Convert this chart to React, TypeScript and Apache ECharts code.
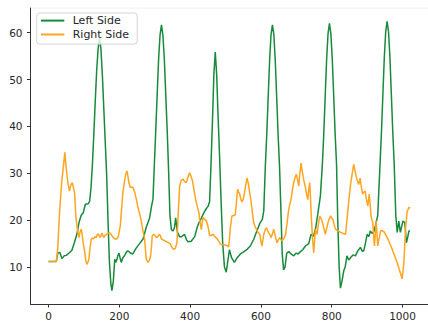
import React, { useEffect, useRef } from "react";
import * as echarts from "echarts";

const xTicks = [0, 200, 400, 600, 800, 1000];
const yTicks = [10, 20, 30, 40, 50, 60];

const leftX = [0,22,26,32,38,44,50,58,66,72,80,86,92,98,104,112,116,120,124,128,132,136,140,144,148,152,156,160,164,168,172,176,179,183,187,190,193,196,199,202,205.5,210,215,220,224,231,238,247,257,267,276,285.5,291,295,299,303,307,311,315,319,323,327,331,335,339,343,347,352,356,359,364,370,376,384,390,394,403,413,420,425,432,438,446,451,455,459,463,467,471,475,479,483,487,492,497,502,506,511,517,525,533,542,550,561,570,580,590,598,604,608,612.5,616.5,620.5,624.5,628.5,632.5,636.5,640.5,644.5,648.5,652.5,656.5,660,664,668,673,678.5,685,692.7,700,705,711.6,718,725.7,735,741.6,749,755,761,768,773.6,777.6,781.6,785.6,789.6,793.6,797.6,801.6,805.6,809.6,813.6,817,821,824.6,829,834,838,843,848,853,860,867,874,881,886,890.6,895,900,905,909,914,919,925.5,930,936.5,940.5,944.5,948.5,952.5,956.5,960.5,964.5,968.5,972.5,976.5,981,985,989.5,994,1001,1006.5,1011,1015,1018,1021];
const leftY = [11.2,11.2,13,13.1,11.8,12.4,12.5,13,13.6,15,17,19.5,21,21.6,23.4,23.5,24,27,32,38.5,45.5,52,56.5,59,56.5,51,44,37,30,20,11,6.5,5,7,11.7,11,11.6,12.5,13,12,11,12,12.5,13.2,13.5,13,12.8,14,15,16,18.5,20.5,23,24.5,32,39.5,47,54.5,59.5,61.7,59.5,54.5,47,39.5,31,21,18,17.7,18.5,20.5,17.5,16.5,16.5,17,15.8,15.4,15.5,16.5,18.5,19.5,20.5,21.5,22.5,23,24,32,41,51,55.9,51,42,34,25,15,10,8.9,11,13.7,12,11,12,12.8,13.2,13.8,14.5,16,18,19.5,20.2,22,31.6,38.3,46.3,54,59.6,61.7,59.6,54,46.3,38.3,31.6,22,13,9.4,10,13,13.3,12.8,12.4,13,12.8,13.3,13.7,14.5,15,17,16.6,18.5,21.5,25.2,32,38.5,46.5,54.3,59.8,62,59.8,54.3,46.5,38.5,32,20,10,5.5,7,9.2,10,12.4,11.5,12,12.6,12.4,13.5,14.2,13.4,13.5,15,17,16.5,17.7,17.2,17.5,19.5,21,32,38.8,46.7,54.6,60.2,62.4,60.2,54.6,46.7,38.8,32,21,17.4,19.8,17.4,19.8,19.5,15.2,16.5,17.7,17.7];

const rightX = [0,22,26,31,37,42,46,50,54.6,59,63,67,70,73.5,77,80,85.8,89,92.4,95,98,101.8,105,108,111,114,117,120.6,124,127,131,135,138,141,146,150.8,155.6,160,164,169,173.6,178,183,188,192.6,197,202.6,206,210,214,217.7,221.5,224,227,231,235,238.7,243,248,252.6,257,262,266,271.4,274,276,281,285,288,291,293,297,301,305,309,312.6,316,319,326,334,343.6,348,351,355,358,362.8,366,370.4,375,379.8,384,389,394,398.6,402,406,411,415.6,420,425,428,431.7,434,436.5,441,446,451,455,460,464.6,470,476,481,485.5,490,495,500,504,509,511,513.6,518,523,527.6,531,534,537,540,543,546.6,550,553,557,560.6,565,568,572,576,579.6,584,589,593,597,600,603,606,608,612,615.6,619,622,626,629,633,636,641,645.5,649,653,656,659.6,664,669,674,678.5,682,685,689,692.6,696,700,703,706.8,710,713.4,716,719,722,725.7,729,732.3,735,738,740.5,742.7,746,749,752,754,756,758.6,762,766,769,772,777,782,786,790,793,796.4,800,804,807,810.6,814,817,823,829,834,839,843,848,853,858,862,866,869,872,876,880,884,887,891,894.5,898,902,906,909,911,914,916,918,920.7,923,925.5,928,930,932,935,938,942,947.7,957,970.7,984.8,999,1004,1008.4,1013,1018,1022];
const rightY = [11.2,11.2,14,21.6,28,31.5,34.5,31,28,26.2,27.5,28,27,25.9,21,18.8,16.3,17.5,18.1,17,15,13.5,11.5,10.6,11,11.7,14,16,16.2,16,16.5,16.3,17,17,16.3,17.3,16.3,16.8,17,17.3,17.3,16.8,16.3,16,16,16.5,18.8,22,25.9,28,29.7,30.5,29.5,28,27,27.1,27,26.1,24.5,22.7,21.5,19.8,18,16,13.5,11.7,11,11.5,12.2,14.5,16.7,17,16.7,16.3,16.5,17,16.7,16,15.7,15.4,15,14.3,13.9,13.8,14,15.2,21,27.3,28.5,28.8,28.3,28,29.2,30.1,29.5,28.6,26.5,24.4,23,21.5,19.5,18,19.5,20.6,20.2,19.9,18.5,16.7,16.8,17,16.5,16.1,15.5,14.9,14.8,14.8,14.7,14.6,14.3,16,18.4,20.9,21,21.2,24,26.6,26,25.6,24.5,23.9,24.5,25.6,27.5,29,27.6,26,24.1,21.5,19.5,18.5,17.8,17.3,17,15.5,14.5,16,17,18,18.4,17.8,17.3,16.8,16.3,17.2,18.1,16.5,15.2,15.8,16.3,15.9,15.6,16,16.7,19.5,22.3,23.5,24.4,26.5,28,29,29.8,28.8,27.3,30,32.2,30.8,29.4,28.2,27,25.5,24.4,26.5,28,24,20.2,16,13.1,16,18.1,17.5,17,19,20.9,20.5,20,18.5,17,18.3,19.6,20.3,20.9,20.5,20,19,18.1,17.9,17.8,17.5,17.3,17.1,17,20,24,27.5,30,31.9,30.5,29.4,28.5,27.6,29,27,25.6,26,26.2,24.5,23,25.6,23,20.9,20,19.6,17,14.5,17,19.9,17,14.5,15.5,16.4,17.7,17.8,17.5,16.3,13.8,11,7.5,11,18.1,21.8,22.7,22.6];

const GREEN = "#178a3b";
const ORANGE = "#ffa51f";
const FONT = "DejaVu Sans";

export default function App() {
  const ref = useRef<HTMLDivElement>(null);
  useEffect(() => {
    document.body.style.margin = "0";
    if (!ref.current) return;
    const chart = echarts.init(ref.current, undefined, { renderer: "svg" });
    const pairs = (xs: number[], ys: number[]) => xs.map((x, i) => [x, ys[i]]);
    chart.setOption({
      animation: false,
      backgroundColor: "#ffffff",
      grid: { left: 30.5, right: 0, top: 8, bottom: 22, containLabel: false },
      xAxis: {
        type: "value",
        min: -51,
        max: 1072,
        axisLine: { show: true, onZero: false, lineStyle: { color: "#333", width: 1 } },
        axisTick: { show: true, length: 3.5, customValues: xTicks, lineStyle: { color: "#333" } },
        axisLabel: {
          customValues: xTicks,
          formatter: (v: number) => String(v),
          margin: 6,
          fontSize: 10.5,
          fontFamily: FONT,
          color: "#262626",
        },
        splitLine: { show: false },
      },
      yAxis: {
        type: "value",
        min: 2.13,
        max: 65.27,
        axisLine: { show: true, onZero: false, lineStyle: { color: "#333", width: 1 } },
        axisTick: { show: true, length: 3.5, customValues: yTicks, lineStyle: { color: "#333" } },
        axisLabel: {
          customValues: yTicks,
          formatter: (v: number) => String(v),
          margin: 8,
          fontSize: 10.5,
          fontFamily: FONT,
          color: "#262626",
        },
        splitLine: { show: false },
      },
      legend: {
        orient: "vertical",
        left: 36.7,
        top: 13,
        itemWidth: 23.3,
        itemHeight: 14,
        itemGap: 2.7,
        padding: [2, 8.3, 4, 3.3],
        backgroundColor: "rgba(255,255,255,0.8)",
        borderColor: "#d4d4d4",
        borderWidth: 1,
        borderRadius: 3,
        itemStyle: { opacity: 0 },
        textStyle: { fontSize: 11, fontFamily: FONT, color: "#262626", padding: [0, 0, 0, 3.4] },
        data: ["Left Side", "Right Side"],
      },
      graphic: [
        { type: "line", shape: { x1: 31, y1: 8, x2: 428, y2: 8 }, style: { stroke: "#f0f0f0", lineWidth: 1 }, silent: true },
      ],
      series: [
        {
          name: "Left Side",
          type: "line",
          data: pairs(leftX, leftY),
          symbol: "none",
          lineStyle: { color: GREEN, width: 1.5 },
          itemStyle: { color: GREEN },
          z: 2,
        },
        {
          name: "Right Side",
          type: "line",
          data: pairs(rightX, rightY),
          symbol: "none",
          lineStyle: { color: ORANGE, width: 1.5 },
          itemStyle: { color: ORANGE },
          z: 3,
        },
      ],
    });
    return () => chart.dispose();
  }, []);
  return <div ref={ref} style={{ width: 428, height: 326 }} />;
}
